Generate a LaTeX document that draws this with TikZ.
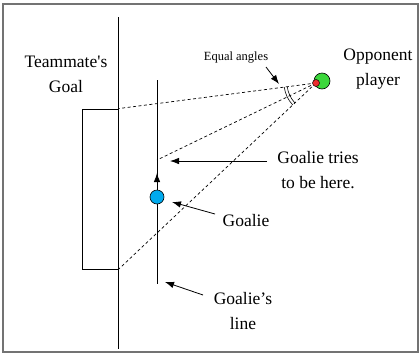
\documentclass[tikz,border=0pt]{standalone}
\usepackage{fontspec}
\setmainfont{Liberation Serif}
\usetikzlibrary{positioning,arrows.meta,calc}
\definecolor{oppgreen}{RGB}{60,215,60}
\definecolor{ballred}{RGB}{235,45,45}
\definecolor{keeperblue}{RGB}{0,170,238}
\tikzset{
  frm/.style={line width=1.3pt,black!55},
  fieldln/.style={line width=0.8pt},
  goalbox/.style={draw,line width=0.8pt,minimum width=36pt,minimum height=160pt,inner sep=0pt},
  sight/.style={line width=0.7pt,dash pattern=on 3pt off 2.5pt},
  ptr/.style={-{Latex[length=9pt,width=6.5pt]},line width=0.8pt},
  amark/.style={line width=0.6pt},
  lbl/.style={font=\fontsize{17.5}{25}\selectfont,align=center,inner sep=0pt},
  smalllbl/.style={font=\fontsize{12.5}{15}\selectfont,inner sep=0pt},
  keeper/.style={circle,draw,fill=keeperblue,minimum size=14pt,inner sep=0pt,line width=0.6pt},
  opp/.style={circle,draw,fill=oppgreen,minimum size=16pt,inner sep=0pt,line width=0.6pt},
  ball/.style={circle,draw,fill=ballred,minimum size=7pt,inner sep=0pt,line width=0.5pt},
}
\begin{document}
\begin{tikzpicture}[x=1pt,y=-1pt]
  \useasboundingbox (0,0) rectangle (420,354);
  \draw[frm] (3,4) rectangle (418,352);
  % field and goal
  \coordinate (ftop) at (118,17);
  \coordinate (fbot) at (118,349);
  \draw[fieldln] (ftop) -- (fbot);
  \node[goalbox] (goal) at (100,189) {};
  % goalie's line
  \coordinate (ltop) at (157,80);
  \coordinate (lbot) at (157,284);
  \coordinate (spot) at (157,160);
  \coordinate (kc) at (157,197);
  \coordinate (movetip) at (157,173);
  \draw[fieldln] (ltop) -- (lbot);
  \draw[ptr] (kc) -- (movetip);
  \node[keeper] (goalie) at (kc) {};
  % lines of sight from the ball
  \coordinate (shot) at (316,83);
  \draw[sight] (shot) -- (goal.north east);
  \draw[sight] (shot) -- (spot);
  \draw[sight] (shot) -- (goal.south east);
  \foreach \r in {29,32}
    \draw[amark] ($(shot)+(136.8:\r)$) arc[start angle=136.8,end angle=172.5,radius=\r];
  \node[opp] (player) at (322,81) {};
  \node[ball] (bl) at (shot) {};
  % labels
  \node[lbl] (mate) at (66,74) {Teammate\textquotesingle s\\Goal};
  \node[lbl] (opplbl) at (378,69) {Opponent\\player};
  \node[smalllbl] (eq) at (236,58) {Equal angles};
  \node[lbl] (tries) at (318,170) {Goalie tries\\to be here.};
  \node[lbl] (gl) at (246,221) {Goalie};
  \node[lbl] (gline) at (243,311) {Goalie's\\line};
  % pointers
  \coordinate (eqtail) at (266,67);
  \coordinate (eqtip) at (279,84);
  \coordinate (triestail) at (267,161);
  \coordinate (triestip) at (170,161);
  \coordinate (gltail) at (215,214);
  \coordinate (gltip) at (172,202);
  \coordinate (glinetail) at (203,295);
  \coordinate (glinetip) at (165,282);
  \draw[ptr] (eqtail) -- (eqtip);
  \draw[ptr] (triestail) -- (triestip);
  \draw[ptr] (gltail) -- (gltip);
  \draw[ptr] (glinetail) -- (glinetip);
\end{tikzpicture}
\end{document}
